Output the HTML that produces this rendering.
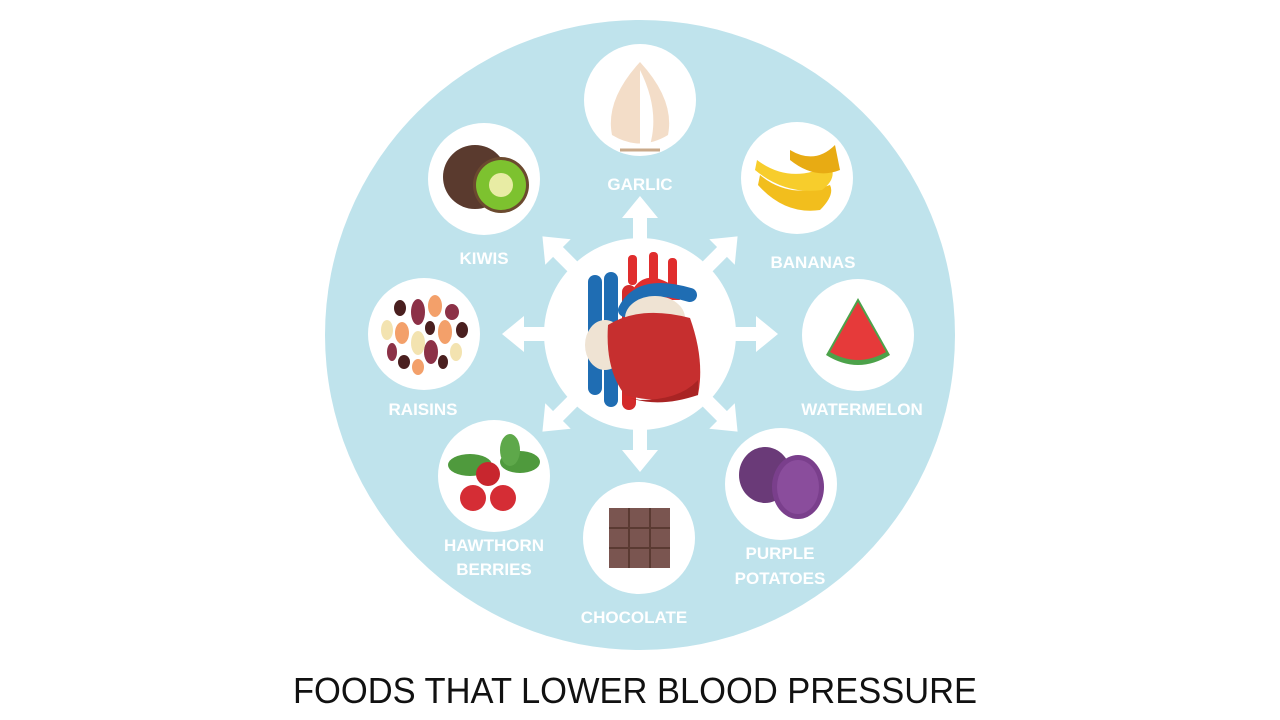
<!DOCTYPE html>
<html><head><meta charset="utf-8"><style>
html,body{margin:0;padding:0;background:#fff;width:1280px;height:720px;overflow:hidden}
svg{display:block}
.l{font-family:"Liberation Sans",sans-serif;font-weight:bold;font-size:17px;fill:#fff;text-anchor:middle}
</style></head><body>
<svg width="1280" height="720" viewBox="0 0 1280 720">
<circle cx="640" cy="335" r="315" fill="#bfe3ec"/>
<g fill="#fff">
<circle cx="640" cy="334" r="96"/>
<g id="ar"><rect x="633" y="215" width="14" height="40"/><polygon points="622,218 640,196 658,218"/></g>
<use href="#ar" transform="rotate(45 640 334)"/>
<use href="#ar" transform="rotate(90 640 334)"/>
<use href="#ar" transform="rotate(135 640 334)"/>
<use href="#ar" transform="rotate(180 640 334)"/>
<use href="#ar" transform="rotate(225 640 334)"/>
<use href="#ar" transform="rotate(270 640 334)"/>
<use href="#ar" transform="rotate(315 640 334)"/>
<circle cx="640" cy="100" r="56"/>
<circle cx="484" cy="179" r="56"/>
<circle cx="797" cy="178" r="56"/>
<circle cx="424" cy="334" r="56"/>
<circle cx="858" cy="335" r="56"/>
<circle cx="494" cy="476" r="56"/>
<circle cx="639" cy="538" r="56"/>
<circle cx="781" cy="484" r="56"/>
</g>
<!-- heart -->
<g>
<rect x="588" y="275" width="14" height="120" rx="7" fill="#1f6db3"/>
<rect x="604" y="272" width="14" height="135" rx="7" fill="#1f6db3"/>
<rect x="622" y="285" width="14" height="125" rx="7" fill="#d32b2b"/>
<path d="M628 300 Q640 265 672 285 L680 300 Z" fill="#e02d2d"/>
<rect x="628" y="255" width="9" height="30" rx="4" fill="#e02d2d"/>
<rect x="649" y="252" width="9" height="30" rx="4" fill="#e02d2d"/>
<rect x="668" y="258" width="9" height="30" rx="4" fill="#e02d2d"/>
<path d="M625 310 Q640 280 690 295" stroke="#1f6db3" stroke-width="14" fill="none" stroke-linecap="round"/>
<ellipse cx="655" cy="318" rx="30" ry="22" fill="#efe3d3"/>
<ellipse cx="605" cy="345" rx="20" ry="25" fill="#efe3d3"/>
<path d="M608 325 Q640 305 690 318 Q705 360 698 395 Q660 405 625 395 Q605 370 608 325 Z" fill="#c62f2f"/>
<path d="M640 400 Q680 400 698 380 L698 395 Q660 408 630 398 Z" fill="#a92424"/>
</g>
<!-- garlic -->
<g><path d="M640 62 Q675 100 668 135 Q640 152 612 135 Q605 100 640 62 Z" fill="#f3ddc8"/><path d="M640 70 Q660 110 650 145 L640 148 Z" fill="#fff"/><path d="M620 150 L660 150" stroke="#c9a98a" stroke-width="3"/></g>
<!-- kiwi -->
<circle cx="475" cy="177" r="32" fill="#5a3a2e"/>
<circle cx="501" cy="185" r="28" fill="#6b4a2f"/><circle cx="501" cy="185" r="25" fill="#7dc22f"/><circle cx="501" cy="185" r="12" fill="#e8eca4"/>
<!-- bananas -->
<g fill="#f2be1d"><path d="M760 175 Q790 200 830 185 Q835 195 820 210 Q785 215 758 185 Z"/><path d="M757 160 Q790 185 830 165 Q838 178 822 190 Q785 195 755 170 Z" fill="#f7cd2c"/><path d="M790 150 Q815 165 835 145 L840 170 Q815 180 790 160Z" fill="#e8ab13"/></g>
<!-- raisins -->
<g>
<ellipse cx="400" cy="308" rx="6" ry="8" fill="#4a1f1f"/><ellipse cx="418" cy="312" rx="7" ry="13" fill="#8c3147"/><ellipse cx="435" cy="306" rx="7" ry="11" fill="#f3a06a"/><ellipse cx="452" cy="312" rx="7" ry="8" fill="#8c3147"/>
<ellipse cx="387" cy="330" rx="6" ry="10" fill="#f3e3b0"/><ellipse cx="402" cy="333" rx="7" ry="11" fill="#f3a06a"/><ellipse cx="430" cy="328" rx="5" ry="7" fill="#4a1f1f"/><ellipse cx="445" cy="332" rx="7" ry="12" fill="#f3a06a"/><ellipse cx="462" cy="330" rx="6" ry="8" fill="#4a1f1f"/>
<ellipse cx="392" cy="352" rx="5" ry="9" fill="#8c3147"/><ellipse cx="418" cy="343" rx="7" ry="12" fill="#f3e3b0"/><ellipse cx="431" cy="352" rx="7" ry="12" fill="#8c3147"/><ellipse cx="456" cy="352" rx="6" ry="9" fill="#f3e3b0"/>
<ellipse cx="404" cy="362" rx="6" ry="7" fill="#4a1f1f"/><ellipse cx="418" cy="367" rx="6" ry="8" fill="#f3a06a"/><ellipse cx="443" cy="362" rx="5" ry="7" fill="#4a1f1f"/>
</g>
<!-- watermelon -->
<path d="M826 355 L858 298 L890 355 Q858 375 826 355 Z" fill="#4ca24a"/><path d="M830 352 L858 302 L886 352 Q858 368 830 352 Z" fill="#e63a3a"/>
<!-- hawthorn -->
<ellipse cx="470" cy="465" rx="22" ry="11" fill="#4f9a3d"/><ellipse cx="520" cy="462" rx="20" ry="11" fill="#4f9a3d"/><ellipse cx="510" cy="450" rx="10" ry="16" fill="#5ea84a"/>
<circle cx="488" cy="474" r="12" fill="#c8262e"/><circle cx="473" cy="498" r="13" fill="#d52d35"/><circle cx="503" cy="498" r="13" fill="#d52d35"/>
<!-- chocolate -->
<rect x="609" y="508" width="61" height="60" fill="#7a5550"/><g stroke="#5a3a32" stroke-width="2"><path d="M629 508V568M650 508V568M609 528H670M609 548H670"/></g>
<!-- purple potatoes -->
<ellipse cx="765" cy="475" rx="26" ry="28" fill="#6a3a78"/><ellipse cx="798" cy="487" rx="26" ry="32" fill="#7a3f8c"/><ellipse cx="798" cy="487" rx="21" ry="27" fill="#8a4d9c"/>
<!-- labels -->
<text class="l" x="640" y="190">GARLIC</text>
<text class="l" x="484" y="264">KIWIS</text>
<text class="l" x="813" y="268">BANANAS</text>
<text class="l" x="423" y="415">RAISINS</text>
<text class="l" x="862" y="415">WATERMELON</text>
<text class="l" x="494" y="551">HAWTHORN</text>
<text class="l" x="494" y="575">BERRIES</text>
<text class="l" x="634" y="623">CHOCOLATE</text>
<text class="l" x="780" y="559">PURPLE</text>
<text class="l" x="780" y="584">POTATOES</text>
<text x="635" y="703" text-anchor="middle" font-family="Liberation Sans, sans-serif" font-size="36" fill="#111" textLength="684" lengthAdjust="spacingAndGlyphs">FOODS THAT LOWER  BLOOD PRESSURE</text>
</svg>
</body></html>
